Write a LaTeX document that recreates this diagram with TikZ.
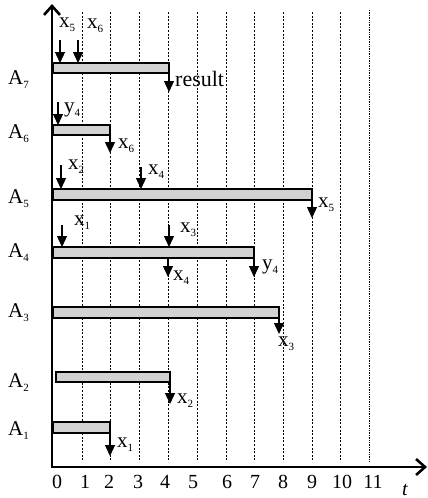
\documentclass[tikz,border=0pt]{standalone}
\usepackage{fontspec}
\setmainfont{Liberation Serif}
\usetikzlibrary{arrows.meta}
\newcommand{\lbl}[2]{#1\raisebox{-4pt}{\fontsize{11}{11}\selectfont #2}}
\begin{document}
\begin{tikzpicture}[x=1pt,y=-1pt,
  gridline/.style={line width=0.9pt,dash pattern=on 2pt off 1.6pt},
  axisline/.style={line width=2.6pt,line join=miter},
  bar/.style={draw,fill=gray!35,line width=1.3pt},
  arr/.style={line width=1.3pt,-{Triangle[length=11pt,width=10pt]}},
  lab/.style={anchor=base west,inner sep=0pt,font=\fontsize{21}{21}\selectfont},
  tick/.style={anchor=base,inner sep=0pt,font=\fontsize{20}{20}\selectfont}]
\useasboundingbox (0,0) rectangle (428,498);
% grid
\foreach \x in {82,110,139,168,197,226,254,283,312,340}
  \draw[gridline] (\x,12) -- (\x,462);
\draw[gridline,dash pattern=on 1.4pt off 1pt] (369,10) -- (369,462);
% axes
\coordinate (ytop) at (52,4);
\coordinate (orig) at (52,467);
\coordinate (xend) at (427,467);
\draw[axisline,{Straight Barb[length=9pt,width=16pt]}-{Straight Barb[length=9pt,width=16pt]}] (ytop) -- (orig) -- (xend);
% bars
\draw[bar] (53,63) rectangle (169,73);
\draw[bar] (53,125) rectangle (110,135);
\draw[bar] (53,189) rectangle (312,200);
\draw[bar] (53,247) rectangle (254,258);
\draw[bar] (53,307) rectangle (279,318);
\draw[bar] (56,372) rectangle (170,382);
\draw[bar] (53,422) rectangle (110,433);
% arrows into bars
\draw[arr] (60,40) -- (60,63);
\draw[arr] (78,40) -- (78,63);
\draw[arr] (58,102) -- (58,125);
\draw[arr] (61,165) -- (61,189);
\draw[arr] (141,167) -- (141,189);
\draw[arr] (62,225) -- (62,247);
\draw[arr] (169,225) -- (169,247);
% arrows out of bars
\draw[arr] (169,73) -- (169,92);
\draw[arr] (110,135) -- (110,153);
\draw[arr] (312,200) -- (312,218);
\draw[arr] (168,258) -- (168,277);
\draw[arr] (254,258) -- (254,277);
\draw[arr] (279,318) -- (279,334);
\draw[arr] (170,382) -- (170,404);
\draw[arr] (110,433) -- (110,456);
% row labels
\node[lab] (a7) at (8,84) {\lbl{A}{7}};
\node[lab] (a6) at (8,138) {\lbl{A}{6}};
\node[lab] (a5) at (8,203) {\lbl{A}{5}};
\node[lab] (a4) at (8,257) {\lbl{A}{4}};
\node[lab] (a3) at (8,317) {\lbl{A}{3}};
\node[lab] (a2) at (8,387) {\lbl{A}{2}};
\node[lab] (a1) at (8,435) {\lbl{A}{1}};
% arrow labels
\node[lab] (l1) at (59,27) {\lbl{x}{5}};
\node[lab] (l2) at (87,28) {\lbl{x}{6}};
\node[lab,font=\fontsize{22}{22}\selectfont] (l3) at (175,86) {result};
\node[lab] (l4) at (64,112) {\lbl{y}{4}};
\node[lab] (l5) at (118,148) {\lbl{x}{6}};
\node[lab] (l6) at (68,169) {\lbl{x}{2}};
\node[lab] (l7) at (148,174) {\lbl{x}{4}};
\node[lab] (l8) at (318,207) {\lbl{x}{5}};
\node[lab] (l9) at (74,225) {\lbl{x}{1}};
\node[lab] (l10) at (180,232) {\lbl{x}{3}};
\node[lab] (l11) at (173,280) {\lbl{x}{4}};
\node[lab] (l12) at (262,269) {\lbl{y}{4}};
\node[lab] (l13) at (278,346) {\lbl{x}{3}};
\node[lab] (l14) at (177,403) {\lbl{x}{2}};
\node[lab] (l15) at (117,447) {\lbl{x}{1}};
% tick labels
\foreach \x/\n in {57/0,85/1,109/2,138/3,165/4,193/5,227/6,255/7,283/8,312/9,342/10,373/11}
  \node[tick] at (\x,488) {\n};
\node[tick,font=\fontsize{20}{20}\selectfont\itshape] (tl) at (405,495) {t};
\end{tikzpicture}
\end{document}
